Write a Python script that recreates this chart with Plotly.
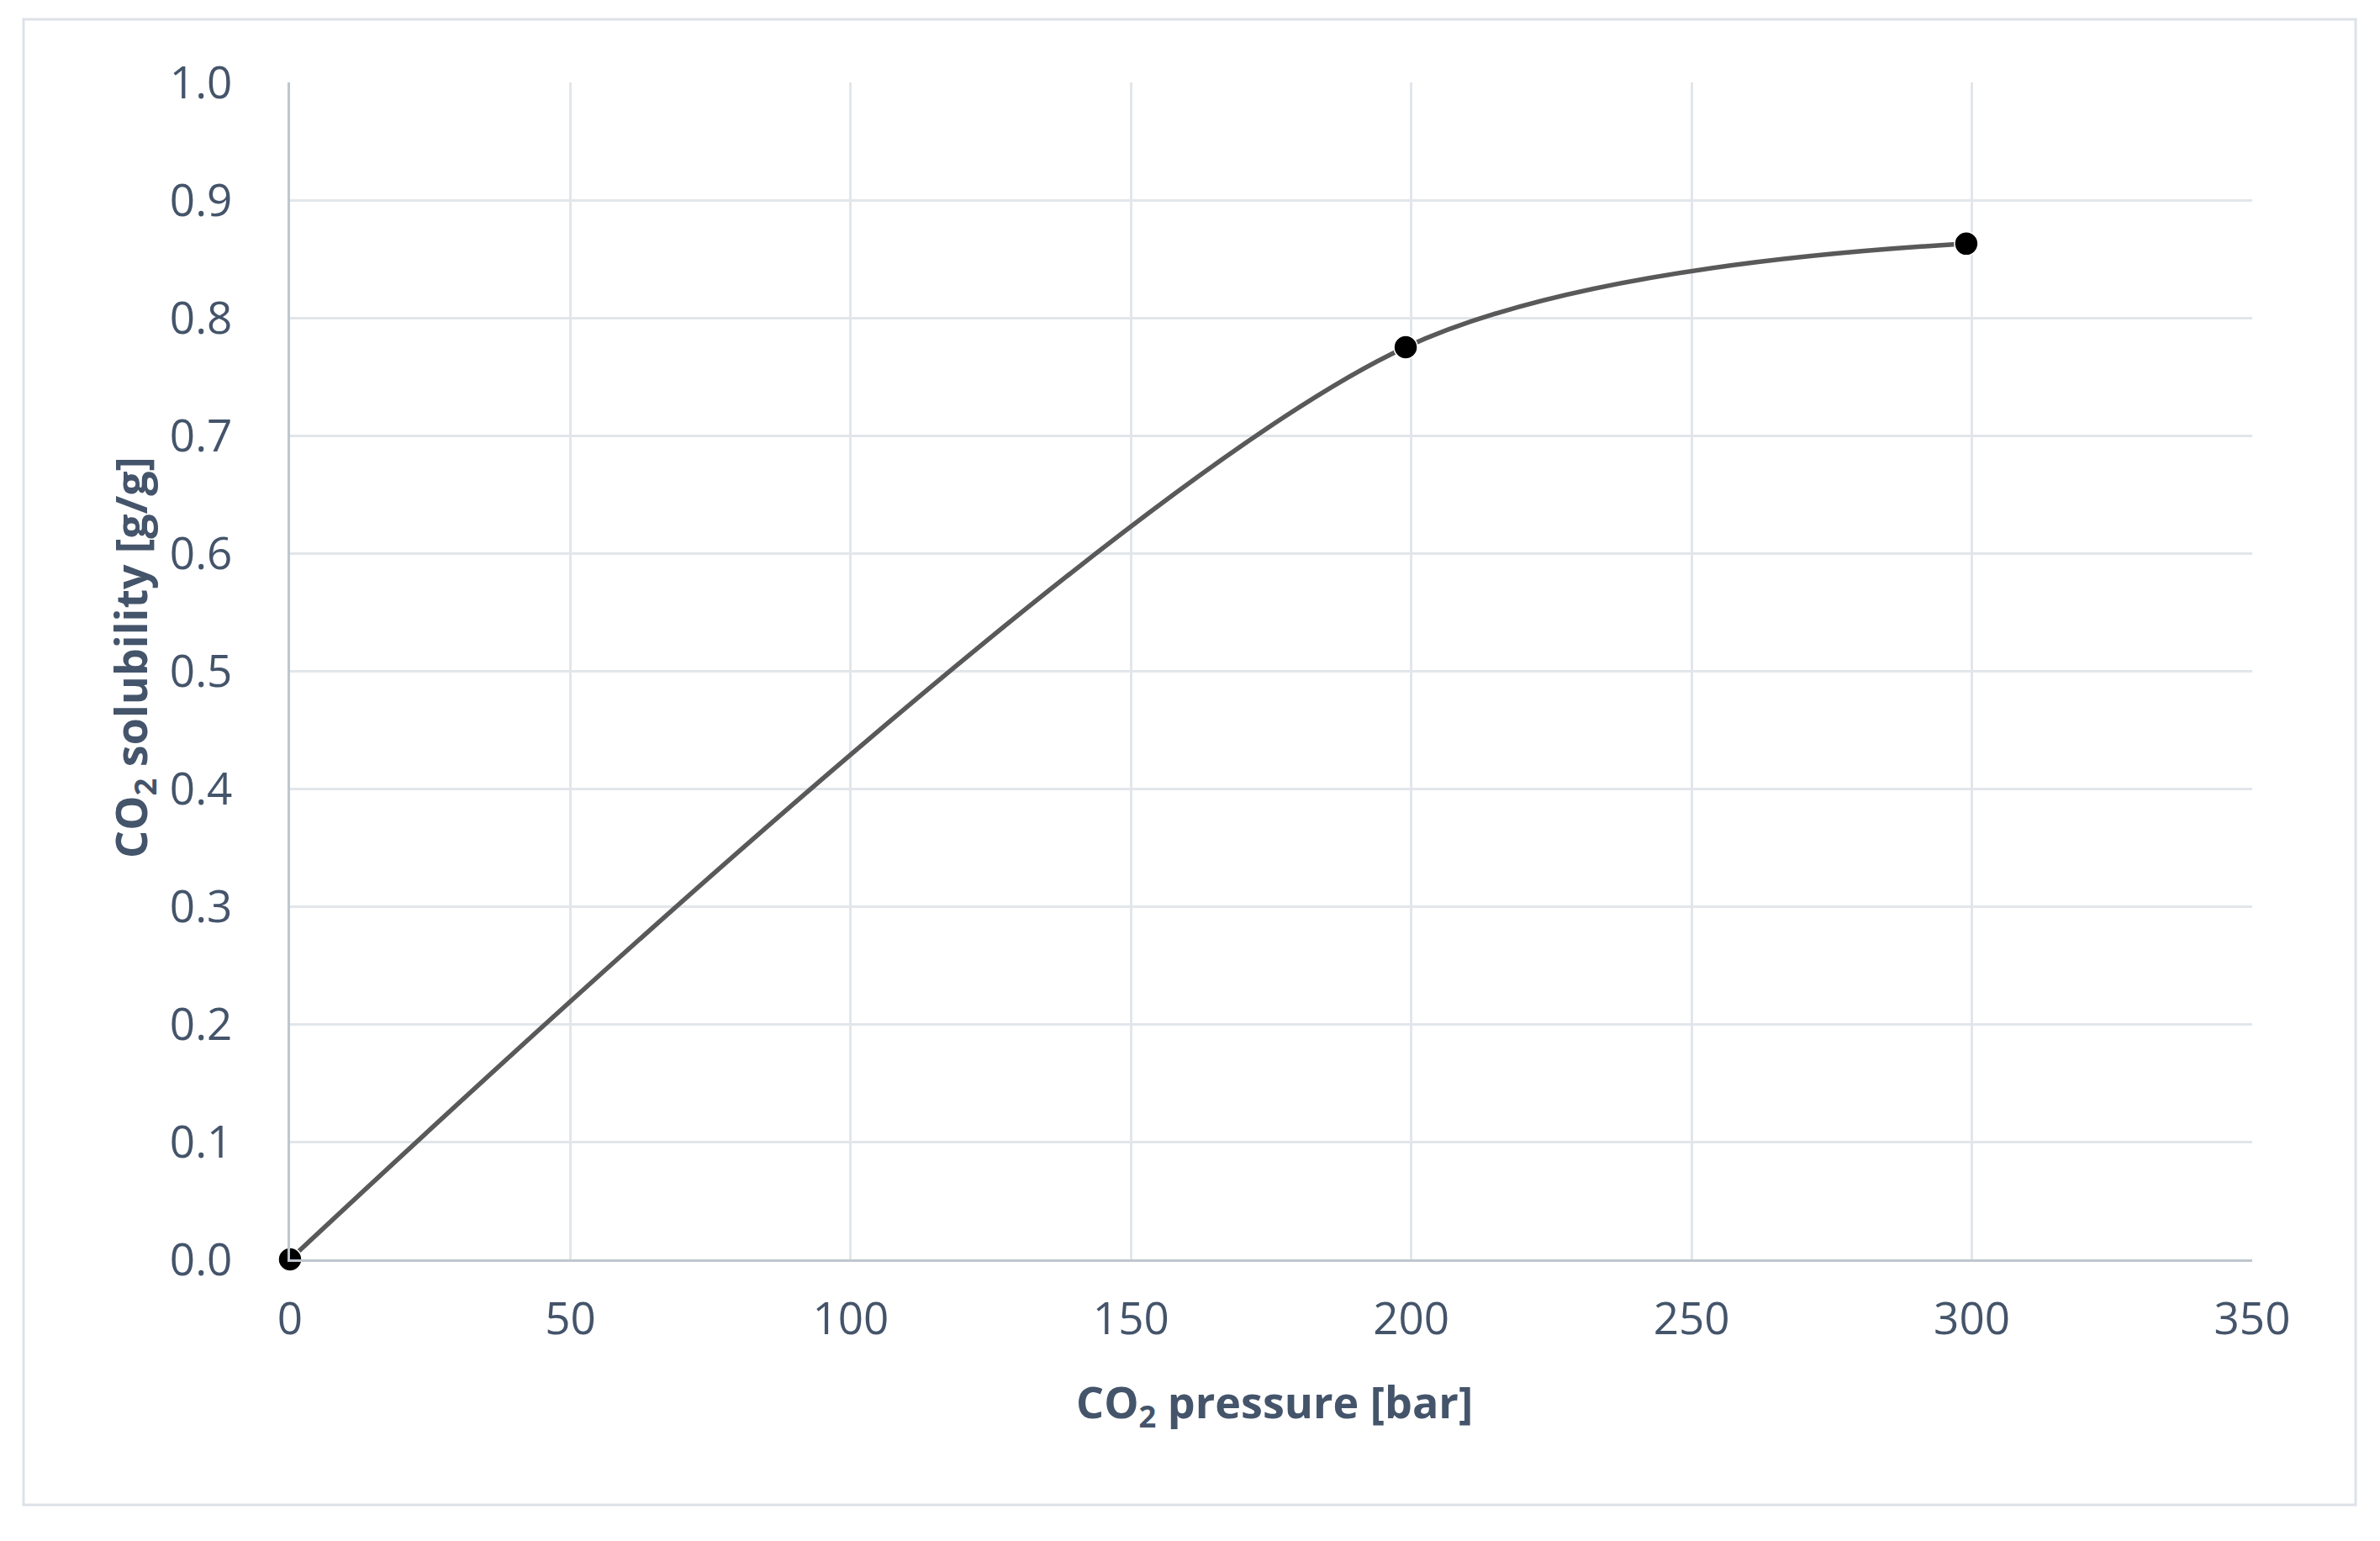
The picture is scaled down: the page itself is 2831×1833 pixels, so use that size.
import plotly.graph_objects as go

pressure = [0, 199, 299]
solubility = [0.0, 0.775, 0.863]

x_ticks = [0, 50, 100, 150, 200, 250, 300, 350]
y_ticks = [0.0, 0.1, 0.2, 0.3, 0.4, 0.5, 0.6, 0.7, 0.8, 0.9, 1.0]

x_title = "<b>CO<sub>2</sub> pressure [bar]</b>"
y_title = "<b>CO<sub>2</sub> solubility [g/g]</b>"

W, H = 2831, 1833
OFF = 8  # default page body margin
# target plot-area edges in screen pixels
SL, SR, ST, SB = 345, 2679, 98, 1498
L, R, T, B = SL - OFF, SR - OFF, ST - OFF, SB - OFF
text_color = "#44546a"
font_family = "'Open Sans', 'Noto Sans', sans-serif"
pw, ph = SR - SL, SB - ST


def px(xs):
    return (xs - SL) / pw


def py(ys):
    return (SB - ys) / ph


fig = go.Figure()
fig.add_trace(go.Scatter(
    x=pressure, y=solubility, mode="lines+markers",
    line=dict(color="#595959", width=5.5, shape="spline", smoothing=0.85),
    marker=dict(color="black", size=28, line=dict(color="white", width=1.5)),
    cliponaxis=False, showlegend=False,
))

# outer chart border
fig.add_shape(type="rect", xref="paper", yref="paper",
              x0=px(28), x1=px(2802), y0=py(1790), y1=py(23),
              line=dict(color="#dde2e8", width=3), fillcolor="rgba(0,0,0,0)", layer="below")

# axis titles
fig.add_annotation(text=x_title, xref="paper", yref="paper",
                   x=px(1516), y=py(1670),
                   xanchor="center", yanchor="middle", showarrow=False,
                   font=dict(family=font_family, size=52, color=text_color))
fig.add_annotation(text=y_title, xref="paper", yref="paper",
                   x=px(158), y=py(782), textangle=-90,
                   xanchor="center", yanchor="middle", showarrow=False,
                   font=dict(family=font_family, size=52, color=text_color))

fig.update_layout(
    width=W, height=H,
    margin=dict(l=L, r=W - R, t=T, b=H - B),
    paper_bgcolor="white", plot_bgcolor="white",
    font=dict(family=font_family, size=53, color=text_color),
    xaxis=dict(
        range=[0, 350], tickvals=x_ticks, ticktext=[str(v) for v in x_ticks],
        showgrid=True, gridcolor="#e2e6eb", gridwidth=3,
        showline=True, linecolor="#bfc6ce", linewidth=3,
        zeroline=False, ticks="", ticklabelstandoff=22,
    ),
    yaxis=dict(
        range=[0, 1.0], tickvals=y_ticks, ticktext=[f"{v:.1f}" for v in y_ticks],
        showgrid=True, gridcolor="#e2e6eb", gridwidth=3,
        showline=True, linecolor="#bfc6ce", linewidth=3,
        zeroline=False, ticks="", ticklabelstandoff=55,
    ),
)

fig.write_html("out.html")
